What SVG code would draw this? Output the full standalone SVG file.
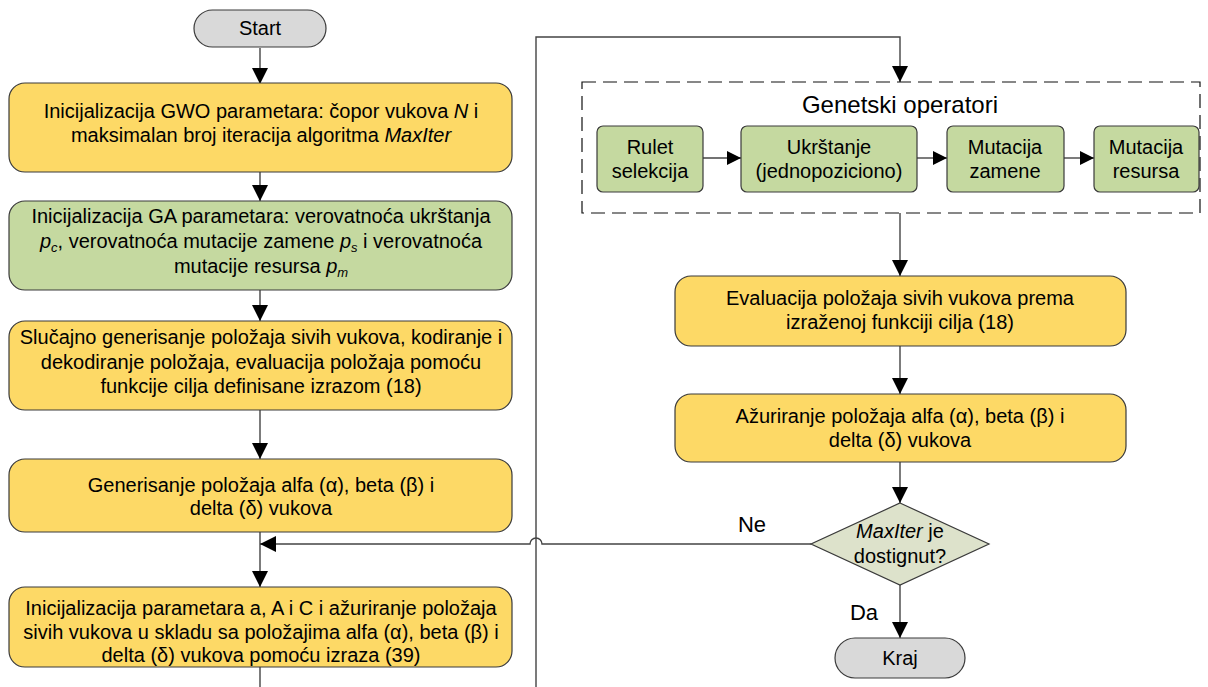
<svg xmlns="http://www.w3.org/2000/svg" width="1208" height="687" viewBox="0 0 1208 687">
  <style>
    text { font-family: "Liberation Sans", Arial, sans-serif; font-size: 20px; fill: #000; text-anchor: middle; }
    .yellow { fill: #FDD966; stroke: #3a3a3a; stroke-width: 1.2; }
    .green { fill: #C5D9A0; stroke: #3a3a3a; stroke-width: 1.2; }
    .grey { fill: #D9D9D9; stroke: #3a3a3a; stroke-width: 1.2; }
    .dec { fill: #DDE2CB; stroke: #3a3a3a; stroke-width: 1.2; }
    .conn { fill: none; stroke: #444; stroke-width: 1.4; }
    .dash { fill: none; stroke: #111; stroke-width: 1.2; stroke-dasharray: 14 7; }
    .it { font-style: italic; }
    .sub { font-style: italic; font-size: 13px; }
    .title { font-size: 24px; }
    .branch { font-size: 22px; }
  </style>
  <defs>
    <marker id="arrow" markerWidth="14" markerHeight="14" refX="14" refY="7" orient="auto" markerUnits="userSpaceOnUse">
      <path d="M0,0 L14,7 L0,14 Z" fill="#000"/>
    </marker>
    <marker id="arrowBig" markerWidth="16" markerHeight="16" refX="16" refY="8" orient="auto" markerUnits="userSpaceOnUse">
      <path d="M0,0 L16,8 L0,16 Z" fill="#000"/>
    </marker>
  </defs>

  <!-- connectors -->
  <g id="connectors">
    <line class="conn" x1="260" y1="48" x2="260" y2="84" marker-end="url(#arrowBig)"/>
    <line class="conn" x1="260" y1="172" x2="260" y2="201" marker-end="url(#arrowBig)"/>
    <line class="conn" x1="260" y1="290" x2="260" y2="321" marker-end="url(#arrowBig)"/>
    <line class="conn" x1="260" y1="410" x2="260" y2="459" marker-end="url(#arrowBig)"/>
    <line class="conn" x1="260" y1="532" x2="260" y2="587" marker-end="url(#arrowBig)"/>
    <line class="conn" x1="260" y1="667" x2="260" y2="687"/>
    <!-- loop back to the genetic operators -->
    <polyline class="conn" points="536,687 536,37 900,37 900,82" marker-end="url(#arrowBig)"/>
    <!-- operator chain -->
    <line class="conn" x1="703" y1="158" x2="741" y2="158" marker-end="url(#arrow)"/>
    <line class="conn" x1="917" y1="158" x2="947" y2="158" marker-end="url(#arrow)"/>
    <line class="conn" x1="1064" y1="158" x2="1094" y2="158" marker-end="url(#arrow)"/>
    <line class="conn" x1="900" y1="213" x2="900" y2="276" marker-end="url(#arrowBig)"/>
    <line class="conn" x1="900" y1="346" x2="900" y2="394" marker-end="url(#arrowBig)"/>
    <line class="conn" x1="900" y1="462" x2="900" y2="503" marker-end="url(#arrowBig)"/>
    <line class="conn" x1="900" y1="585" x2="900" y2="638" marker-end="url(#arrowBig)"/>
    <!-- "Ne" branch with a hop over the vertical line -->
    <path class="conn" d="M811,544 L542,544 A6,6 0 0 0 530,544 L260,544" marker-end="url(#arrowBig)"/>
    <text class="branch" x="752" y="532">Ne</text>
    <text class="branch" x="864" y="620">Da</text>
  </g>

  <g id="start">
    <rect class="grey" x="194" y="10" width="132" height="37" rx="18.5"/>
    <text x="260" y="35">Start</text>
  </g>

  <g id="gwo-init">
    <rect class="yellow" x="9" y="83" width="503" height="89" rx="16"/>
    <text x="261" y="118">Inicijalizacija GWO parametara: čopor vukova <tspan class="it">N</tspan> i</text>
    <text x="261" y="142">maksimalan broj iteracija algoritma <tspan class="it">MaxIter</tspan></text>
  </g>

  <g id="ga-init">
    <rect class="green" x="9" y="201" width="503" height="89" rx="16"/>
    <text x="261" y="223">Inicijalizacija GA parametara: verovatnoća ukrštanja</text>
    <text x="261" y="248"><tspan class="it">p</tspan><tspan class="sub" dy="4">c</tspan><tspan dy="-4">, verovatnoća mutacije zamene </tspan><tspan class="it">p</tspan><tspan class="sub" dy="4">s</tspan><tspan dy="-4"> i verovatnoća</tspan></text>
    <text x="261" y="273">mutacije resursa <tspan class="it">p</tspan><tspan class="sub" dy="4">m</tspan></text>
  </g>

  <g id="random-init">
    <rect class="yellow" x="9" y="321" width="503" height="89" rx="16"/>
    <text x="261" y="344">Slučajno generisanje položaja sivih vukova, kodiranje i</text>
    <text x="261" y="369">dekodiranje položaja, evaluacija položaja pomoću</text>
    <text x="261" y="393">funkcije cilja definisane izrazom (18)</text>
  </g>

  <g id="leaders">
    <rect class="yellow" x="9" y="459" width="503" height="73" rx="16"/>
    <text x="261" y="492">Generisanje položaja alfa (α), beta (β) i</text>
    <text x="261" y="515">delta (δ) vukova</text>
  </g>

  <g id="update-positions">
    <rect class="yellow" x="9" y="587" width="503" height="80" rx="16"/>
    <text x="261" y="615">Inicijalizacija parametara a, A i C i ažuriranje položaja</text>
    <text x="261" y="639">sivih vukova u skladu sa položajima alfa (α), beta (β) i</text>
    <text x="261" y="662">delta (δ) vukova pomoću izraza (39)</text>
  </g>

  <g id="genetic-operators">
    <rect class="dash" x="582" y="82" width="618" height="131"/>
    <text class="title" x="900" y="113">Genetski operatori</text>
  </g>

  <g id="roulette">
    <rect class="green" x="597" y="126" width="106" height="66" rx="6"/>
    <text x="650" y="154">Rulet</text>
    <text x="650" y="178">selekcija</text>
  </g>

  <g id="crossover">
    <rect class="green" x="741" y="126" width="176" height="66" rx="6"/>
    <text x="829" y="154">Ukrštanje</text>
    <text x="829" y="178">(jednopoziciono)</text>
  </g>

  <g id="swap-mutation">
    <rect class="green" x="947" y="126" width="117" height="66" rx="6"/>
    <text x="1005" y="154">Mutacija</text>
    <text x="1005" y="178">zamene</text>
  </g>

  <g id="resource-mutation">
    <rect class="green" x="1094" y="126" width="105" height="66" rx="6"/>
    <text x="1146" y="154">Mutacija</text>
    <text x="1146" y="178">resursa</text>
  </g>

  <g id="evaluation">
    <rect class="yellow" x="675" y="276" width="451" height="70" rx="16"/>
    <text x="900" y="305">Evaluacija položaja sivih vukova prema</text>
    <text x="900" y="329">izraženoj funkciji cilja (18)</text>
  </g>

  <g id="update-leaders">
    <rect class="yellow" x="675" y="394" width="451" height="68" rx="16"/>
    <text x="900" y="423">Ažuriranje položaja alfa (α), beta (β) i</text>
    <text x="900" y="447">delta (δ) vukova</text>
  </g>

  <g id="max-iter">
    <polygon class="dec" points="900,503 989,544 900,585 811,544"/>
    <text x="900" y="538"><tspan class="it">MaxIter</tspan> je</text>
    <text x="900" y="563">dostignut?</text>
  </g>

  <g id="end">
    <rect class="grey" x="835" y="638" width="130" height="40" rx="20"/>
    <text x="900" y="665">Kraj</text>
  </g>
</svg>
